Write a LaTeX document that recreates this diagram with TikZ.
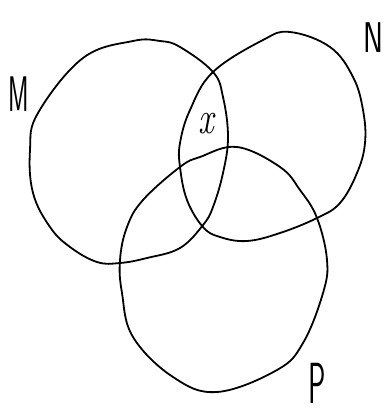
\documentclass[tikz,border=0pt]{standalone}
\begin{document}
\begin{tikzpicture}[x=1pt,y=-1pt,
  setline/.style={line width=1.8pt, line join=round},
  lbl/.style={inner sep=0pt, outer sep=0pt}]
\useasboundingbox (0,0) rectangle (387,414);
% Set M
\draw[setline] plot[smooth cycle, tension=0.65] coordinates {
 (83,58) (133,41) (160,41) (180,47) (213,72) (223,97) (228,137) (223,173)
 (213,207) (203,225) (180,248) (147,258) (120,263) (97,262) (70,247)
 (50,227) (33,193) (30,150) (38,113)};
% Set N
\draw[setline] plot[smooth cycle, tension=0.65] coordinates {
 (263,40) (290,32) (330,47) (353,77) (363,110) (365,143) (357,173) (340,203)
 (317,218) (280,233) (247,241) (220,237) (203,227) (187,200) (180,167)
 (180,143) (190,110) (213,72)};
% Set P
\draw[setline] plot[smooth cycle, tension=0.65] coordinates {
 (237,147) (280,167) (300,190) (317,218) (327,260) (323,293) (303,343)
 (277,370) (217,392) (173,377) (133,337) (122,293) (120,260) (127,227)
 (143,200) (180,167) (200,157)};
% Labels
\node[lbl, font=\fontsize{50}{50}\selectfont\sffamily, xscale=0.5] (labM) at (19,94) {M};
\node[lbl, font=\fontsize{43}{43}\selectfont\sffamily, xscale=0.7, anchor=west] (labN) at (363,38) {N};
\node[lbl, font=\fontsize{58}{58}\selectfont\sffamily, xscale=0.5, anchor=south] (labP) at (317,403) {P};
\node[lbl, font=\fontsize{46}{46}\selectfont\itshape, xscale=0.75] (labx) at (206,124) {x};
\end{tikzpicture}
\end{document}
